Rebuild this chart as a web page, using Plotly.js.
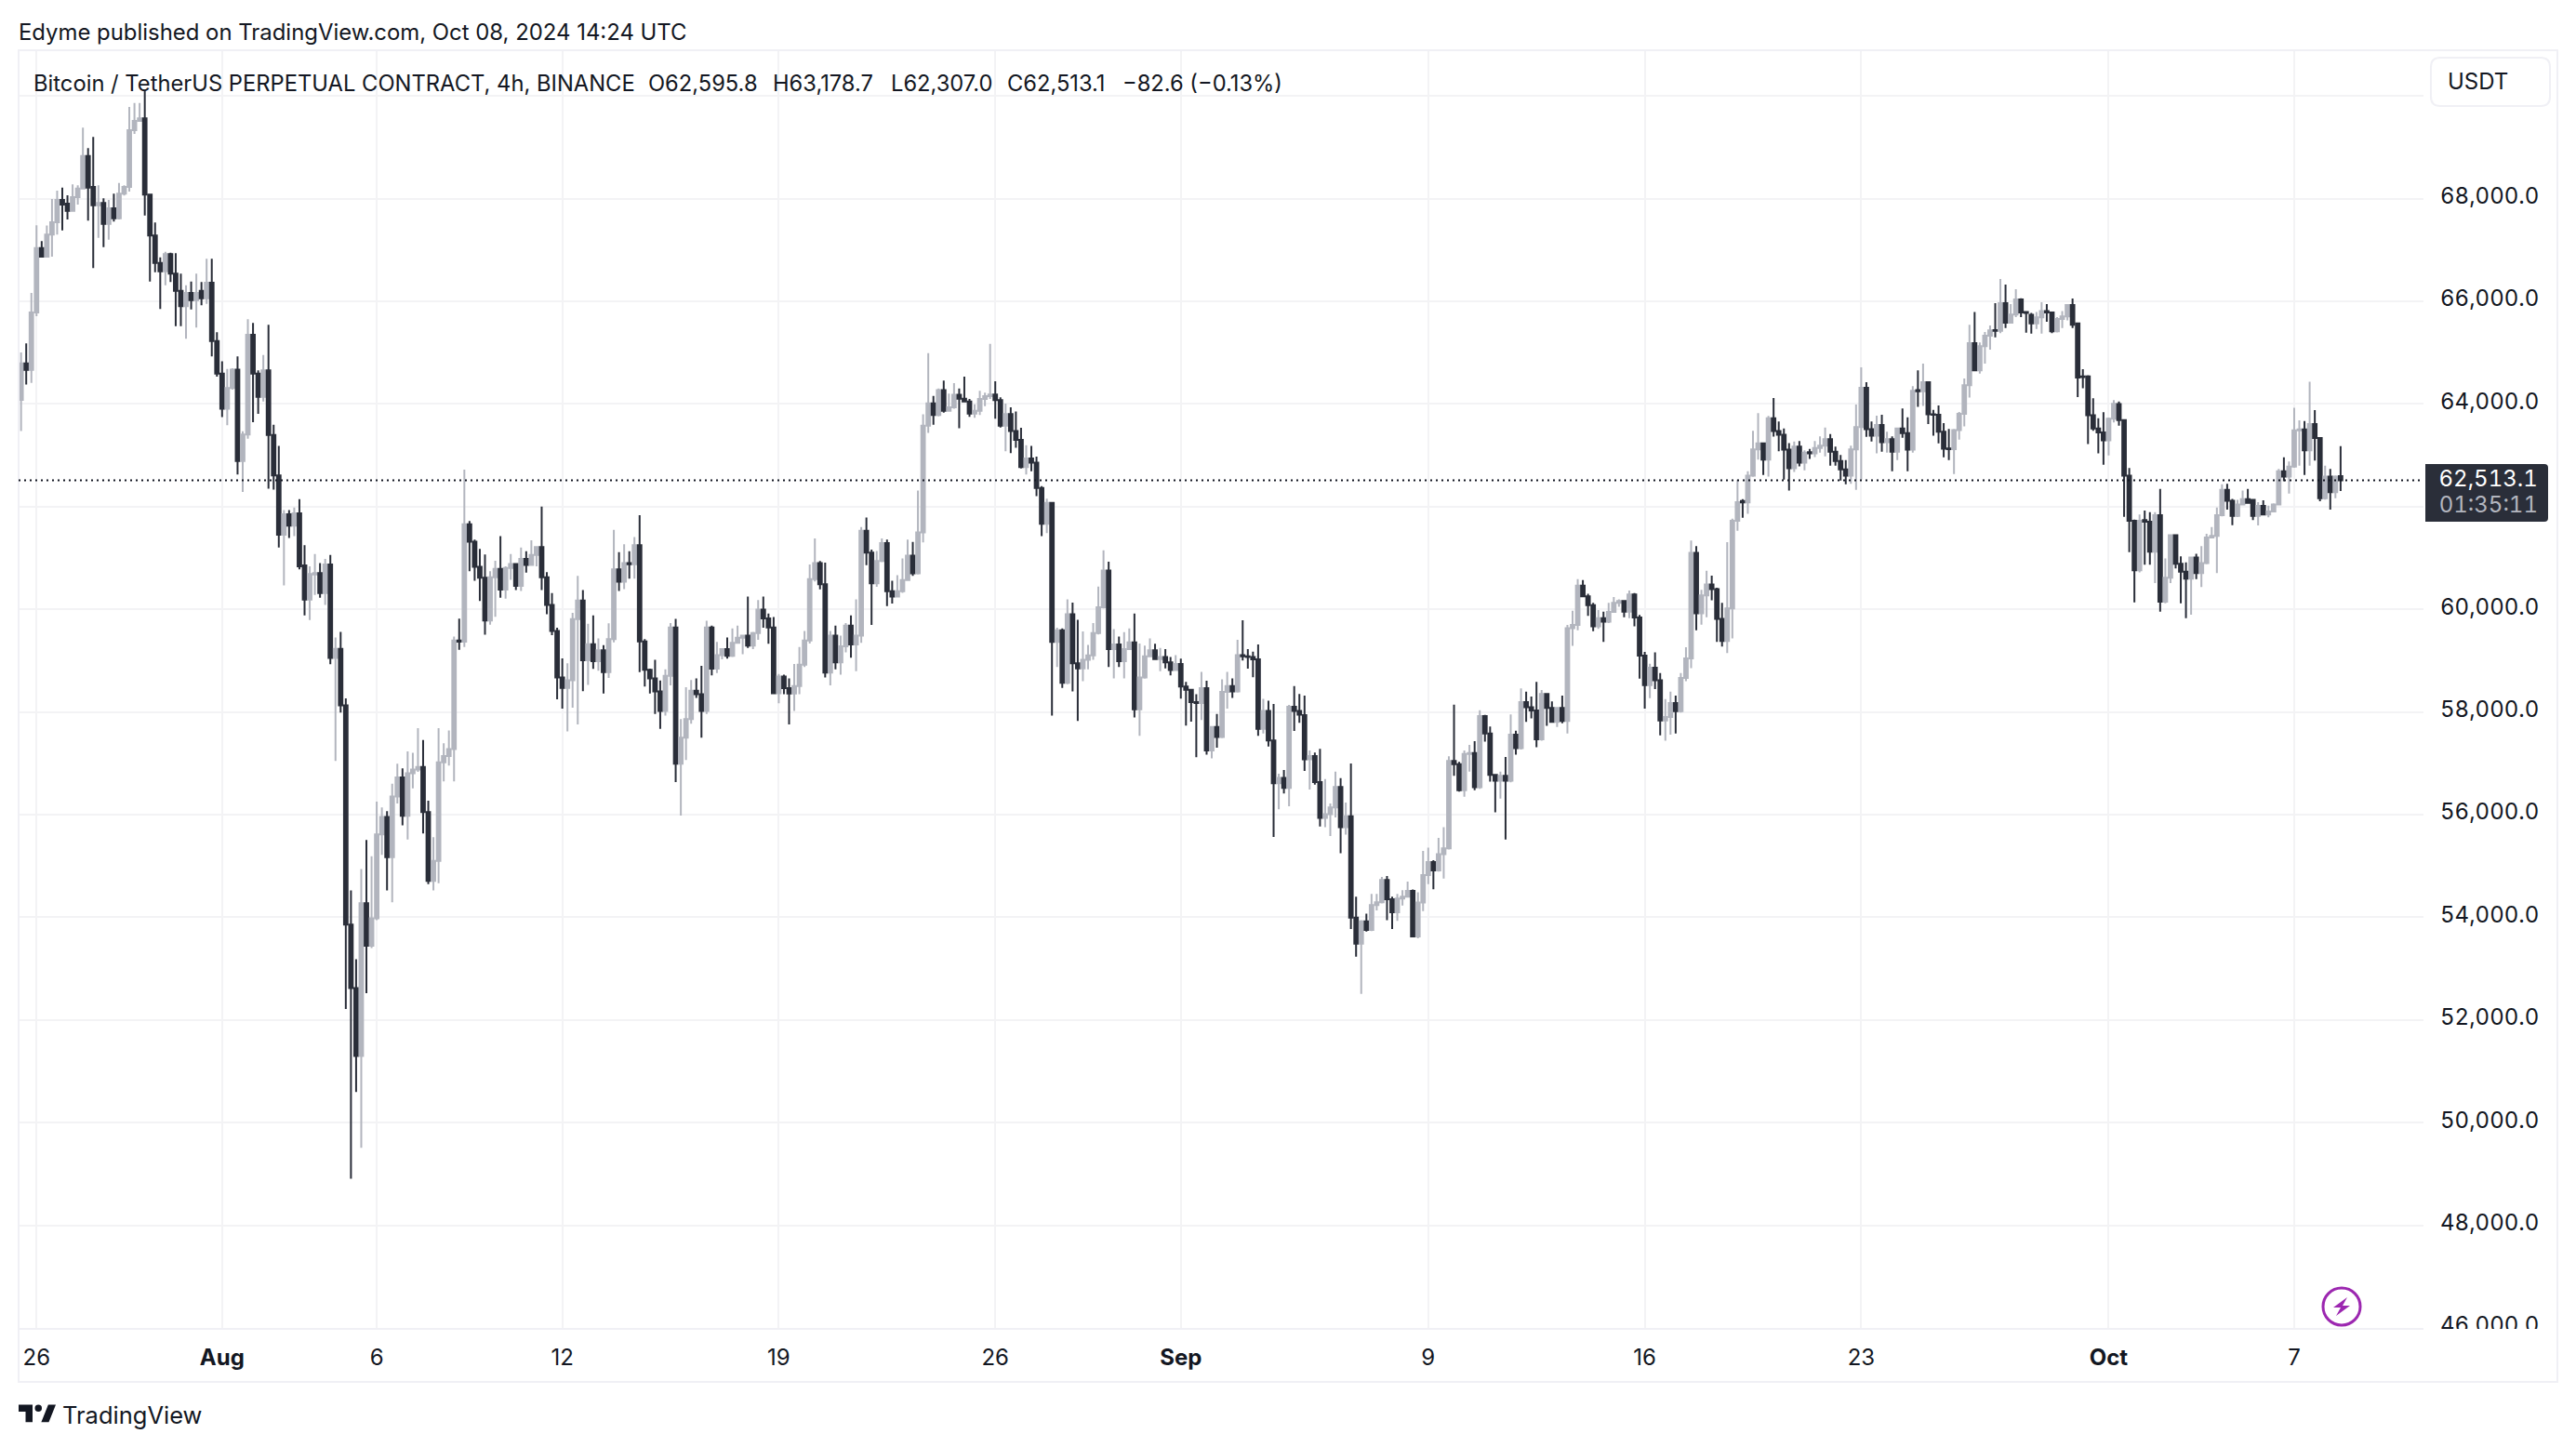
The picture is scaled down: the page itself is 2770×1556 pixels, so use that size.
<!DOCTYPE html>
<html>
<head>
<meta charset="utf-8">
<script src="https://cdn.plot.ly/plotly-3.0.1.min.js"></script>
<style>html,body{margin:0;padding:0;background:#fff}#chart{width:2770px;height:1556px}
.ytick text,.annotation[data-index="8"] text,.annotation[data-index="9"] text{font-variant-numeric:tabular-nums;font-feature-settings:"tnum" 1}
</style>
</head>
<body>
<div id="chart"></div>
<script>
const barOpen = [
64080,64793,64666,65784,67040,66871,67300,67541,67976,67904,
67765,68031,68200,68834,68230,67874,67916,67511,67813,67620,
68097,68230,69335,69516,69565,68079,67282,66750,66587,66919,
66539,66207,65904,66164,66025,66207,66062,66364,65228,64594,
63911,64310,64672,62891,63404,65349,64594,64141,64654,63398,
62610,61455,61852,61631,61871,60855,60189,60680,60707,60319,
60873,59053,59228,58129,53860,52622,51300,54276,53444,53980,
55615,55957,55172,56355,56724,55976,56807,56881,56928,56050,
54710,55098,57020,57140,57279,59395,59370,61658,61317,60827,
60614,59783,60624,60790,60383,60808,60882,60457,60984,60864,
61058,61215,60624,60088,59579,58674,58471,58618,59810,60171,
59007,59321,58988,59201,58776,59422,60781,60540,60901,60880,
61252,59376,58822,58657,58401,58020,58706,59648,56994,57500,
57860,58415,58345,58020,59648,58845,59108,59226,59094,59350,
59447,59489,59295,59537,59995,59822,59648,58366,58692,58463,
58359,58505,58921,59392,60591,60903,60487,58768,59489,58969,
59281,59683,59316,59489,61533,61104,60508,60944,61291,60355,
60251,60355,60570,61048,60702,61499,63578,64014,63786,64271,
63869,63938,64181,64104,64049,63813,63869,64097,64153,64187,
64076,63578,63806,63474,63300,62774,62940,62857,62365,61665,
62074,59364,59593,58567,59905,58948,58851,59018,59101,59537,
60043,60757,59226,59316,58990,59226,59357,58054,58671,59087,
59205,59031,59073,58969,58817,58934,58498,58435,58193,58175,
58463,57250,57708,57514,58394,58505,58401,59108,59085,59073,
59025,57673,58020,57445,56613,56717,56523,58103,58020,57939,
57080,57144,56635,55936,56012,56139,56540,55758,55967,53996,
53487,53920,53754,54238,54295,54727,54352,54098,54364,54403,
54517,53627,54288,54823,55077,54912,55230,55344,57049,56985,
56476,57182,57201,56534,57920,57583,56775,56661,56756,56661,
57558,57297,58194,58092,58028,57468,58352,58079,57806,58079,
57825,59631,59695,60464,60254,60082,59669,59828,59758,59949,
60127,60165,59955,60292,59841,59097,58524,58861,58620,57837,
57901,58174,58016,58664,59046,61100,59923,60273,60483,60394,
59815,59383,60019,61725,62110,62085,62605,63118,63232,62919,
63721,63474,63401,63112,62750,63172,62858,63060,63040,63142,
63190,63317,63070,62889,62726,62605,63118,63552,64318,63510,
63383,63594,63256,63317,63070,63522,63431,63112,64270,64250,
64426,63799,63790,63462,63135,63120,63492,63811,64366,65186,
64655,65126,65331,65440,65425,65964,65584,65741,66036,65795,
65740,65572,65687,65813,65783,65415,65656,65705,65928,65572,
64537,64537,63781,63522,63449,63293,63715,64001,63688,62605,
61726,60762,61738,61708,61124,61834,60148,60618,61443,60889,
60732,60600,61009,60708,60901,61400,61431,61834,62328,62117,
61822,62045,62147,62135,61822,62014,61846,61906,62045,62689,
62586,62779,63489,63507,63098,63610,63339,62165,62586,62285,
62595.8];
const barHigh = [
65005,65180,66164,67481,67173,67480,67994,68157,68218,68067,
68278,68260,69384,68985,69202,68260,68006,67976,68097,68308,
68260,69788,69867,69867,70102,68100,67535,66859,66968,66950,
66937,66539,66315,66388,66539,66376,66829,66829,65397,64835,
64685,64697,64926,63470,65651,65578,64654,64956,65542,63597,
63186,61936,61936,61982,62148,61252,60836,61076,60901,60984,
61058,59450,59561,58267,54525,53185,54941,55505,55190,56253,
56142,56068,56604,56992,56900,57232,57205,57685,57454,56272,
55560,57685,57390,57639,59469,59820,62721,61723,61360,61178,
61067,60744,60947,61427,60836,61076,60901,61206,61132,61344,
61215,62000,60725,60319,59644,59044,58951,59931,60651,60374,
59718,59884,59432,59302,59727,61548,61113,61270,61132,61409,
61834,59422,58845,59018,58616,58831,59731,59815,57860,58484,
58623,58657,58900,59780,59683,59364,59240,59454,59628,59683,
59489,60251,59560,60182,60251,59918,59849,58740,58727,58657,
58934,59267,59579,60875,61381,60944,60910,59579,59683,59489,
59731,59884,60196,61603,61790,61166,61138,61381,61360,60556,
60667,60993,61360,61312,62316,63799,64991,64160,64305,64458,
64201,64409,64305,64534,64100,63993,64257,64222,65171,64444,
64130,64007,63938,63855,63536,63196,63182,62975,62400,62157,
62090,59641,59630,60196,60133,59794,59572,59309,59731,60445,
61152,60930,59614,59468,59558,59628,59919,59336,59295,59434,
59329,59246,59225,59073,59108,59038,58588,58450,58345,58782,
58609,57720,57964,58636,58782,58657,59406,59787,59225,59177,
59316,58255,58220,58158,56800,56869,58140,58505,58353,58321,
57252,57208,57284,56693,56216,56839,56712,56235,56998,54403,
53945,54072,54454,54454,54785,54804,54403,54454,54530,54696,
54540,54486,55293,55357,55115,55548,55758,57138,58143,57030,
57252,57360,57430,58034,57945,57717,56790,56839,57125,57952,
57634,58461,58397,58302,58588,58429,58370,58206,58095,58321,
59695,59974,60591,60572,60305,60127,59987,59955,60127,60241,
60197,60180,60368,60318,59892,59173,58938,59160,58760,58251,
58397,58321,58760,59262,61342,61234,60381,60750,60655,60420,
60127,61310,61768,62527,62147,62690,63480,63823,63250,63770,
64119,63660,63522,63238,63269,63281,63100,63124,63281,63371,
63540,63413,63172,63009,62907,63190,63992,64716,64426,63660,
63775,63793,63462,63371,63540,63914,63739,64348,64655,64788,
64440,63884,63974,63630,63516,63516,63847,64499,65542,65795,
65198,65403,65530,65964,66434,66326,65946,66235,66060,65795,
65777,65795,65982,65946,65795,65693,65813,65946,66054,65590,
64680,64560,64113,63721,63841,63735,64077,64049,63700,62755,
61750,61846,61924,61894,61894,62346,60991,61460,61460,61033,
60913,61020,61082,61232,61473,61605,61985,62436,62448,62153,
62135,62316,62346,62150,62087,62123,62020,62065,62737,62960,
62881,63929,63682,63670,64435,63881,63350,62797,62737,62610,
63178.7];
const barLow = [
63476,64382,64413,65711,66859,66871,66871,67300,67384,67596,
67765,67886,68188,67572,66647,67239,67058,67203,67553,67596,
68060,68139,69263,69500,67674,66388,66569,65850,66315,66376,
65518,65518,65270,65844,65488,65923,65953,64926,64533,63748,
63585,64280,62628,62286,63325,63646,63809,64050,62351,62333,
61205,60466,61390,61427,60781,59884,59792,60282,60226,60088,
58933,57048,57990,52215,48907,50598,49508,52520,53400,53943,
55218,54525,54294,56216,55791,55514,56512,56835,55634,54645,
54525,54664,56650,56955,56650,59210,59265,60744,60559,60162,
59506,59700,59857,60226,60208,60577,60374,60356,60716,60850,
60836,60374,59903,59496,58249,58064,57621,58083,57759,58406,
58526,58840,58803,58360,58665,59358,60356,60393,60596,60596,
58776,58498,58360,57964,57673,57930,58519,56634,55982,57064,
57770,58276,57500,57964,58713,58761,59025,59038,59073,59330,
59128,59246,59225,59406,59641,59329,58345,58172,58345,57756,
58020,58345,58879,59336,60542,60390,58671,58519,58830,58727,
59163,59059,58796,59350,60861,59697,60438,60920,60064,60112,
60230,60320,60556,60653,60680,61305,63439,63598,63760,63834,
63850,63910,63529,64030,63751,63730,63786,63959,64097,63716,
63543,63079,63044,63148,62746,62628,62690,62205,61429,61485,
57930,58879,58470,58540,58401,57826,58602,58831,59018,59510,
60020,58879,58657,58879,58657,59210,57895,57535,58650,59070,
59020,58796,58851,58713,58800,58262,57736,57812,57118,57846,
57167,57098,57306,57490,58068,58276,58380,59004,58845,58678,
57535,57583,57327,55567,56107,56412,56163,57632,57791,56852,
56489,56584,55770,55758,55586,55948,55249,55611,53773,53233,
52507,53722,53730,54136,54270,53945,53773,53932,54231,54390,
53608,53589,54123,54645,54549,54890,54753,55320,56756,56450,
56349,56839,56476,56502,57424,56642,56044,56311,55516,56629,
57170,57270,57806,57875,57316,57440,57729,57790,57710,57780,
57583,59287,59593,60240,59873,59574,59618,59364,59733,59930,
60051,59847,59828,59669,58651,58066,58270,58448,57545,57443,
57558,57583,57990,58600,58855,59593,59701,59847,60178,59364,
59275,59148,59434,61532,61785,61863,62580,62919,62617,62587,
63365,63082,62527,62316,62678,62786,62708,62931,62969,63051,
62981,62798,62798,62509,62436,62448,62328,62527,63359,63269,
63039,63070,63051,62690,62907,63341,62690,63051,63944,63962,
63612,63383,63232,62961,62907,62635,63305,63564,64125,64650,
64595,64788,65060,65301,65379,65482,65570,65693,65693,65391,
65373,65463,65373,65602,65379,65395,65482,65632,65482,64137,
64306,63220,63480,63039,62816,62997,63642,63580,61804,61112,
60136,60720,60871,60871,60510,59956,60118,60510,60799,60118,
59829,59896,60588,60437,60880,61380,60708,61810,61942,61641,
61800,62030,62060,61738,61634,61830,61792,61890,62030,62496,
62255,62760,62797,62617,62797,62900,62105,62140,61942,62165,
62307.0];
const barClose = [
64793,64666,65784,67040,66871,67300,67541,67976,67886,67765,
68031,68200,68834,68218,67874,67916,67511,67813,67620,68097,
68230,69335,69516,69565,68079,67282,66750,66587,66919,66539,
66207,65904,66164,66025,66164,66062,66364,65228,64594,63911,
64310,64672,62891,63404,65349,64594,64141,64654,63398,62610,
61455,61852,61631,61871,60836,60189,60688,60707,60319,60873,
59053,59228,58129,53860,52622,51300,54276,53444,53980,55615,
55957,55172,56355,56724,55976,56807,56881,56928,56050,54710,
55098,57020,57140,57279,59395,59370,61658,61317,60827,60614,
59783,60624,60790,60383,60808,60882,60457,60984,60864,61058,
61215,60624,60088,59579,58674,58471,58618,59810,60171,59007,
59321,58988,59201,58776,59422,60781,60540,60901,60880,61252,
59376,58822,58657,58401,58020,58706,59648,56994,57500,57860,
58415,58345,58020,59648,58845,59108,59226,59094,59350,59447,
59489,59295,59537,59995,59822,59648,58366,58692,58463,58359,
58505,58921,59392,60591,60903,60487,58768,59489,58969,59281,
59683,59316,59489,61533,61104,60508,60944,61291,60355,60251,
60355,60570,61048,60702,61499,63578,64014,63786,64271,63869,
63938,64181,64104,64049,63813,63869,64097,64153,64187,64076,
63578,63806,63474,63300,62774,62940,62857,62365,61665,62074,
59364,59593,58567,59905,58948,58851,59018,59101,59537,60043,
60757,59226,59316,58990,59226,59357,58054,58671,59087,59205,
59031,59073,58969,58817,58934,58498,58435,58193,58175,58463,
57250,57708,57514,58394,58505,58401,59108,59085,59073,59025,
57673,58020,57445,56613,56717,56523,58103,58020,57950,57080,
57144,56635,55936,56012,56139,56540,55758,55967,53996,53487,
53920,53754,54238,54295,54727,54352,54098,54364,54403,54517,
53627,54288,54823,55077,54912,55230,55344,57049,56985,56476,
57182,57201,56534,57920,57583,56775,56661,56756,56661,57558,
57297,58194,58092,58028,57468,58352,58079,57806,58079,57825,
59631,59695,60464,60254,60082,59669,59828,59758,59949,60127,
60165,59955,60292,59841,59097,58524,58861,58620,57837,57901,
58174,58016,58664,59046,61100,59923,60273,60483,60394,59815,
59383,60019,61725,62087,62085,62605,63118,63232,62919,63721,
63474,63401,63112,62750,63172,62858,63051,63040,63142,63190,
63317,63070,62889,62726,62605,63118,63552,64318,63510,63383,
63594,63256,63317,63070,63522,63431,63112,64257,64250,64426,
63799,63790,63462,63130,63120,63492,63811,64366,65186,64655,
65126,65331,65433,65425,65964,65584,65741,66036,65783,65775,
65572,65687,65813,65783,65415,65656,65705,65928,65542,64517,
64525,63781,63522,63449,63293,63715,64004,63688,62605,61726,
60762,61726,61708,61124,61834,60148,60618,61443,60889,60732,
60600,61009,60708,60901,61400,61431,61834,62328,62117,61822,
62045,62147,62075,61822,62014,61846,61906,62045,62689,62586,
62779,63489,63507,63098,63610,63339,62165,62586,62285,62586,
62513.1];

const firstBarTime = Date.UTC(2024, 6, 25, 12);
const barStepMs = 4 * 3600 * 1000;
const barTimes = barOpen.map((_, i) => new Date(firstBarTime + i * barStepMs).toISOString());

const dateTickVals = ['2024-07-26','2024-08-01','2024-08-06','2024-08-12','2024-08-19','2024-08-26','2024-09-01','2024-09-09','2024-09-16','2024-09-23','2024-10-01','2024-10-07'];
const dateTickText = ['26','<b>Aug</b>','6','12','19','26','<b>Sep</b>','9','16','23','<b>Oct</b>','7'];
const priceTickVals = [46000,48000,50000,52000,54000,56000,58000,60000,62000,64000,66000,68000,70000];
const priceTickText = ['46,000.0','48,000.0','50,000.0','52,000.0','54,000.0','56,000.0','58,000.0','60,000.0','','64,000.0','66,000.0','68,000.0',''];

const publishedText = 'Edyme published on TradingView.com, Oct 08, 2024 14:24 UTC';
const symbolText = 'Bitcoin / TetherUS PERPETUAL CONTRACT, 4h, BINANCE';
const ohlcTexts = ['O62,595.8','H63,178.7','L62,307.0','C62,513.1','\u221282.6 (\u22120.13%)'];
const ohlcLeft = [696, 830, 957, 1082, 1206];
const lastPrice = 62513.1;
const lastPriceText = '62,513.1';
const countdownText = '01:35:11';

const W = 2770, H = 1556, L = 20, R = 2606, T = 54, B = 1428;
const px = x => (x - L) / (R - L);
const py = y => (B - y) / (B - T);
const FONT = 'Inter, "Noto Sans", sans-serif';
const INK = '#131722', GRID = '#f3f3f5', FRAME = '#f0f0f5', DARK = '#2a2e39', GREY = '#b2b5be';

function polyPath(pts) {
  return 'M' + pts.map(p => px(p[0]) + ',' + py(p[1])).join('L') + 'Z';
}
function roundRectPath(x0, y0, x1, y1, r, corners) {
  const c = corners || [r, r, r, r];
  const pt = (x, y) => px(x) + ',' + py(y);
  return 'M' + pt(x0 + c[0], y0) + 'L' + pt(x1 - c[1], y0) + 'Q' + pt(x1, y0) + ' ' + pt(x1, y0 + c[1]) +
    'L' + pt(x1, y1 - c[2]) + 'Q' + pt(x1, y1) + ' ' + pt(x1 - c[2], y1) +
    'L' + pt(x0 + c[3], y1) + 'Q' + pt(x0, y1) + ' ' + pt(x0, y1 - c[3]) +
    'L' + pt(x0, y0 + c[0]) + 'Q' + pt(x0, y0) + ' ' + pt(x0 + c[0], y0) + 'Z';
}
function label(text, x, y, size, color, anchor) {
  return {text: text, xref: 'paper', yref: 'paper', x: px(x), y: py(y), xanchor: anchor || 'left', yanchor: 'middle',
    showarrow: false, borderpad: 0, font: {family: FONT, size: size, color: color || INK}};
}
function paperShape(type, x0, y0, x1, y1, extra) {
  return Object.assign({type: type, xref: 'paper', yref: 'paper', x0: px(x0), x1: px(x1), y0: py(y0), y1: py(y1)}, extra);
}
function pathShape(path, fill) {
  return {type: 'path', xref: 'paper', yref: 'paper', path: path, fillcolor: fill, line: {width: 0}, layer: 'above'};
}

// TradingView mark, from its own 32x15 box
const logoX = s => 20 + s * 1.25, logoY = s => 1510.5 + s * 1.25;
const logoBar = [[0,0],[12,0],[12,15],[6,15],[6,6],[0,6]].map(p => [logoX(p[0]), logoY(p[1])]);
const logoSlash = [[19.5,15],[26,15],[32,0],[25.5,0]].map(p => [logoX(p[0]), logoY(p[1])]);

const shapes = [
  // bottom half of the lowest price label is cut by the pane edge
  paperShape('rect', 2608, 1429, 2745, 1445, {fillcolor: '#fff', line: {width: 0}, layer: 'above'}),
  // outer frame
  paperShape('rect', 20, 54, 2750, 1486, {line: {color: FRAME, width: 2}, fillcolor: 'rgba(0,0,0,0)', layer: 'above'}),
  // last price line
  {type: 'line', xref: 'paper', yref: 'y', x0: 0, x1: 1, y0: lastPrice, y1: lastPrice,
   line: {color: INK, width: 2, dash: '2px,4px'}, layer: 'above'},
  // last price box
  {type: 'path', xref: 'paper', yref: 'paper', path: roundRectPath(2608, 499, 2740, 561, 4, [0, 4, 4, 0]), fillcolor: DARK, line: {width: 0}, layer: 'above'},
  // currency button
  {type: 'path', xref: 'paper', yref: 'paper', path: roundRectPath(2614, 62, 2742, 114, 10), fillcolor: '#fff', line: {color: FRAME, width: 2}, layer: 'above'},
  // lightning badge
  paperShape('circle', 2498, 1385, 2538, 1425, {line: {color: '#9c27b0', width: 3}, fillcolor: 'rgba(0,0,0,0)', layer: 'above'}),
  pathShape(polyPath([[2524,1395],[2509,1406],[2517,1406],[2512,1415],[2527,1404],[2519,1404]]), '#9c27b0'),
  // logo
  pathShape(polyPath(logoBar), '#131722'),
  pathShape(polyPath(logoSlash), '#131722'),
  paperShape('circle', logoX(17) - 3.75, logoY(3) - 3.75, logoX(17) + 3.75, logoY(3) + 3.75, {fillcolor: '#131722', line: {width: 0}, layer: 'above'})
];

const annotations = [
  label(publishedText, 19, 35, 23.9),
  label(symbolText, 35, 90, 23.75),
  ...ohlcTexts.map((t, i) => label(t, ohlcLeft[i], 90, 23.7)),
  label('USDT', 2631, 87, 24),
  label(lastPriceText, 2630, 514, 24, '#ffffff'),
  label(countdownText, 2631, 542, 24, '#b2b5be'),
  label('TradingView', 66, 1521, 25.5)
];

const trace = {
  type: 'candlestick',
  x: barTimes, open: barOpen, high: barHigh, low: barLow, close: barClose,
  increasing: {line: {color: GREY, width: 2}, fillcolor: GREY},
  decreasing: {line: {color: DARK, width: 2}, fillcolor: DARK},
  whiskerwidth: 0,
  hoverinfo: 'skip'
};

const layout = {
  width: W, height: H,
  margin: {l: L, r: W - R, t: T, b: H - B, pad: 0},
  paper_bgcolor: '#ffffff', plot_bgcolor: '#ffffff',
  showlegend: false,
  boxgap: 0.02,
  font: {family: FONT, size: 24, color: INK},
  xaxis: {
    type: 'date',
    range: ['2024-07-25 10:05', '2024-10-11 04:20'],
    rangeslider: {visible: false},
    tickmode: 'array', tickvals: dateTickVals, ticktext: dateTickText,
    showgrid: true, gridcolor: GRID, gridwidth: 2,
    showline: true, linecolor: FRAME, linewidth: 2,
    ticks: '', ticklabelstandoff: 9, tickangle: 0,
    tickfont: {family: FONT, size: 24, color: INK},
    zeroline: false
  },
  yaxis: {
    side: 'right',
    range: [46000, 70893],
    tickmode: 'array', tickvals: priceTickVals, ticktext: priceTickText,
    showgrid: true, gridcolor: GRID, gridwidth: 2,
    showline: false, ticks: '', ticklabelstandoff: 17, ticklabelshift: -3,
    tickfont: {family: FONT, size: 24, color: INK},
    zeroline: false
  },
  shapes: shapes,
  annotations: annotations
};

Plotly.newPlot('chart', [trace], layout, {displayModeBar: false, staticPlot: true, responsive: false});
</script>
</body>
</html>
